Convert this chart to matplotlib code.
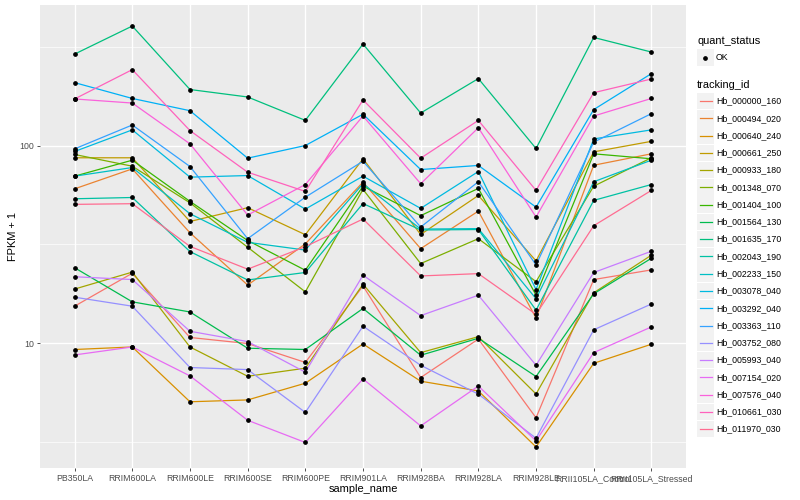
import numpy as np
import matplotlib
matplotlib.use("Agg")
import matplotlib.pyplot as plt
from matplotlib.ticker import FixedLocator, NullFormatter
from matplotlib.lines import Line2D
from matplotlib.patches import Rectangle

plt.rcParams['font.family'] = ['Liberation Sans', 'DejaVu Sans']

samples = ["PB350LA", "RRIM600LA", "RRIM600LE", "RRIM600SE", "RRIM600PE", "RRIM901LA",
           "RRIM928BA", "RRIM928LA", "RRIM928LE", "RRII105LA_Control", "RRII105LA_Stressed"]

# FPKM + 1, one list per tracking_id
hb_000000_160 = [15.4, 22.6, 10.7, 9.97, 8.0, 19.5, 6.71, 10.5, 4.2, 21.0, 23.5]
hb_000494_020 = [60.4, 76.2, 36.2, 19.7, 31.8, 65.3, 30.1, 46.6, 13.4, 79.5, 90.8]
hb_000640_240 = [9.30, 9.58, 5.06, 5.17, 6.28, 9.92, 6.43, 5.74, 2.99, 7.92, 9.89]
hb_000661_250 = [86.7, 86.7, 41.3, 48.5, 35.4, 85.7, 35.5, 55.9, 26.1, 92.9, 105]
hb_000933_180 = [18.8, 22.9, 9.58, 6.81, 7.48, 19.9, 8.97, 10.8, 5.54, 18.0, 27.9]
hb_001348_070 = [90.1, 78.6, 51.3, 30.6, 18.2, 60.0, 25.3, 33.8, 20.5, 62.3, 86.7]
hb_001404_100 = [70.0, 84.3, 52.2, 33.1, 23.4, 62.3, 44.2, 60.7, 17.5, 90.8, 85.7]
hb_001564_130 = [24.1, 16.2, 14.4, 9.44, 9.30, 15.0, 8.70, 10.6, 6.79, 17.8, 26.9]
hb_001635_170 = [290, 402, 192, 176, 134, 326, 146, 218, 96.6, 352, 297]
hb_002043_190 = [53.8, 54.6, 29.1, 20.9, 22.8, 50.9, 37.4, 37.6, 14.7, 52.8, 63.5]
hb_002233_150 = [70.0, 77.4, 45.2, 32.4, 29.6, 64.1, 37.8, 38.0, 16.8, 65.6, 84.3]
hb_003078_040 = [93.3, 120, 69.2, 70.5, 47.7, 70.0, 48.1, 73.9, 18.7, 108, 120]
hb_003292_040 = [208, 173, 150, 86.3, 100, 144, 75.6, 79.3, 48.8, 152, 231]
hb_003363_110 = [96.2, 127, 78.3, 33.8, 54.8, 83.3, 38.7, 65.6, 24.9, 104, 145]
hb_003752_080 = [17.1, 15.4, 7.54, 7.36, 4.47, 12.2, 7.74, 5.53, 3.31, 11.7, 15.8]
hb_005993_040 = [21.7, 21.0, 11.5, 10.2, 7.14, 22.1, 13.8, 17.5, 7.74, 22.8, 29.2]
hb_007154_020 = [8.73, 9.58, 6.84, 4.08, 3.15, 6.60, 3.82, 6.08, 3.21, 8.97, 12.1]
hb_007576_040 = [172, 164, 102, 44.5, 63.5, 141, 64.1, 123, 43.5, 141, 173]
hb_010661_030 = [172, 242, 119, 73.3, 58.6, 170, 86.3, 134, 59.3, 185, 217]
hb_011970_030 = [50.4, 50.8, 30.9, 23.7, 30.8, 42.5, 21.9, 22.5, 14.0, 39.3, 59.3]

tracking_ids = ["Hb_000000_160", "Hb_000494_020", "Hb_000640_240", "Hb_000661_250",
                "Hb_000933_180", "Hb_001348_070", "Hb_001404_100", "Hb_001564_130",
                "Hb_001635_170", "Hb_002043_190", "Hb_002233_150", "Hb_003078_040",
                "Hb_003292_040", "Hb_003363_110", "Hb_003752_080", "Hb_005993_040",
                "Hb_007154_020", "Hb_007576_040", "Hb_010661_030", "Hb_011970_030"]
series = [hb_000000_160, hb_000494_020, hb_000640_240, hb_000661_250, hb_000933_180,
          hb_001348_070, hb_001404_100, hb_001564_130, hb_001635_170, hb_002043_190,
          hb_002233_150, hb_003078_040, hb_003292_040, hb_003363_110, hb_003752_080,
          hb_005993_040, hb_007154_020, hb_007576_040, hb_010661_030, hb_011970_030]
colors = ["#F8766D", "#EA8331", "#D89000", "#C09B00", "#A3A500", "#7CAE00", "#39B600",
          "#00BB4E", "#00BF7D", "#00C1A3", "#00BFC4", "#00BAE0", "#00B0F6", "#35A2FF",
          "#9590FF", "#C77CFF", "#E76BF3", "#FA62DB", "#FF62BC", "#FF6C91"]

W, H = 800, 500
fig = plt.figure(figsize=(8, 5), dpi=100)
ax = fig.add_axes([40 / W, 1 - 468 / H, (686 - 40) / W, (468 - 5) / H])
ax.set_facecolor("#EBEBEB")

x = np.arange(len(samples))
for vals, col in zip(series, colors):
    ax.plot(x, vals, color=col, lw=0.9, zorder=2)
for vals in series:
    ax.plot(x, vals, ls="none", marker="o", ms=2.4, color="black", zorder=3)

ax.set_yscale("log")
allv = np.log10(np.concatenate([np.array(s, dtype=float) for s in series]))
lo, hi = allv.min(), allv.max()
pad = (hi - lo) * 0.05
ax.set_ylim(10 ** (lo - pad), 10 ** (hi + pad))
ax.set_xlim(-0.6, len(samples) - 0.4)

ax.yaxis.set_major_locator(FixedLocator([10, 100]))
ax.set_yticklabels(["10", "100"])
ax.yaxis.set_minor_locator(FixedLocator([10 ** 0.5, 10 ** 1.5, 10 ** 2.5]))
ax.yaxis.set_minor_formatter(NullFormatter())
ax.set_xticks(x)
ax.set_xticklabels(samples)

ax.grid(which="major", color="white", lw=1.0, zorder=0)
ax.grid(which="minor", axis="y", color="white", lw=0.5, zorder=0)
ax.set_axisbelow(True)
for s in ax.spines.values():
    s.set_visible(False)
ax.tick_params(which="major", length=2.2, width=0.6, color="#333333",
               labelsize=6.3, labelcolor="#4D4D4D", pad=2)
ax.tick_params(which="minor", length=0)

fig.text(13 / W, 1 - 236.5 / H, "FPKM + 1", rotation=90, ha="center", va="center", fontsize=7.9)
fig.text(363 / W, 1 - 489 / H, "sample_name", ha="center", va="center", fontsize=7.9)

# legends
def fx(px):
    return px / W

def fy(py):
    return 1 - py / H

fig.text(fx(697), fy(41), "quant_status", ha="left", va="center", fontsize=7.9)
fig.add_artist(Rectangle((fx(697), fy(66)), 16.5 / W, 16.5 / H, transform=fig.transFigure,
                         facecolor="#F2F2F2", edgecolor="none"))
fig.add_artist(Line2D([fx(705.2)], [fy(57.5)], transform=fig.transFigure, ls="none",
                      marker="o", ms=2.4, color="black"))
fig.text(fx(716), fy(57.5), "OK", ha="left", va="center", fontsize=6.3)

fig.text(fx(697), fy(85), "tracking_id", ha="left", va="center", fontsize=7.9)
step = 17.27
for i, (name, col) in enumerate(zip(tracking_ids, colors)):
    cy = 101 + i * step
    fig.add_artist(Rectangle((fx(697), fy(cy + 8.3)), 16.5 / W, 16.6 / H,
                             transform=fig.transFigure, facecolor="#F2F2F2", edgecolor="none"))
    fig.add_artist(Line2D([fx(699.5), fx(711.5)], [fy(cy), fy(cy)], transform=fig.transFigure,
                          color=col, lw=0.9))
    fig.text(fx(716), fy(cy), name, ha="left", va="center", fontsize=6.3)

fig.savefig("out.png", dpi=100, facecolor="white")
